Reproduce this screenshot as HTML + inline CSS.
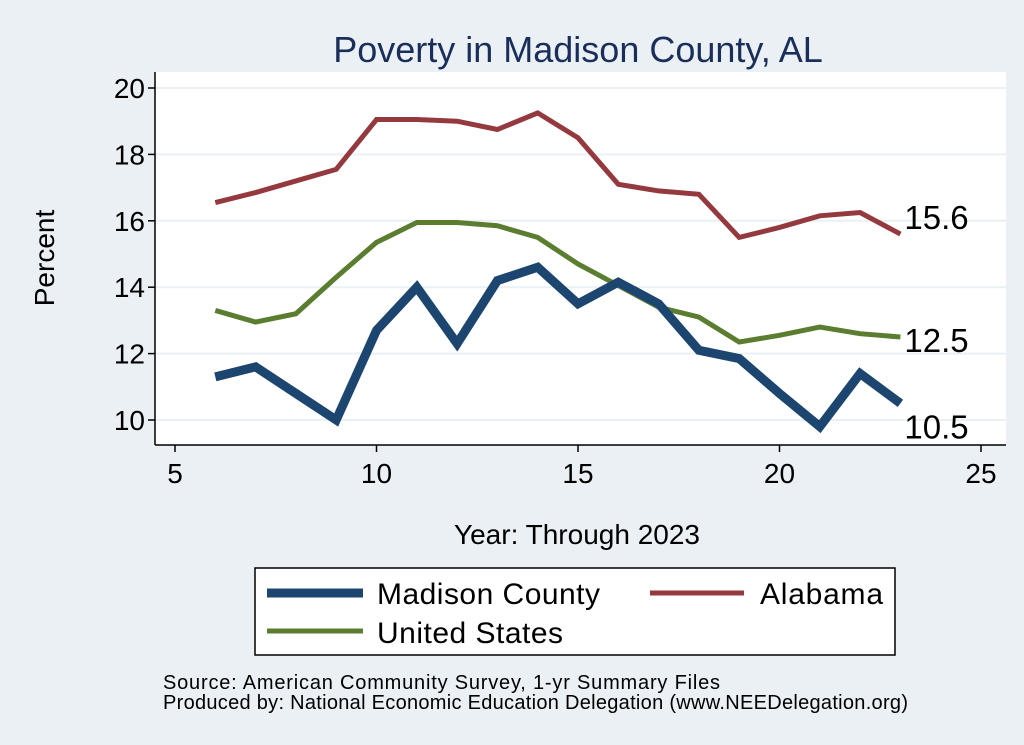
<!DOCTYPE html>
<html><head><meta charset="utf-8"><style>
body{margin:0;background:#eaf0f3;font-family:"Liberation Sans",sans-serif}
svg{display:block}
</style></head><body>
<svg id="c" width="1024" height="745" xmlns="http://www.w3.org/2000/svg">
<rect x="0" y="0" width="1024" height="745" fill="#eaf0f3"/>
<text x="578" y="62" font-size="36" fill="#1a2e5a" text-anchor="middle">Poverty in Madison County, AL</text>
<rect x="155" y="72" width="851" height="373" fill="#fff"/>
<g id="grid"></g><g id="axes"></g><g id="series"></g>
<text x="54" y="258" font-size="28" text-anchor="middle" transform="rotate(-90 54 258)">Percent</text>
<text x="577" y="544" font-size="28" text-anchor="middle">Year: Through 2023</text>
<g>
<rect x="255" y="568" width="640" height="87" fill="#fff" stroke="#000" stroke-width="1.5"/>
<g><line x1="267" y1="593" x2="363" y2="593" stroke="#1c4670" stroke-width="9"/><text x="377" y="604" font-size="30" textLength="223">Madison County</text></g>
<g><line x1="650" y1="593" x2="744" y2="593" stroke="#943a3f" stroke-width="5"/><text x="760" y="604" font-size="30" textLength="123">Alabama</text></g>
<g><line x1="267" y1="631" x2="363" y2="631" stroke="#5a7d30" stroke-width="5"/><text x="377" y="643" font-size="30" textLength="186">United States</text></g>
</g>
<text x="163" y="689" font-size="20" textLength="557">Source: American Community Survey, 1-yr Summary Files</text>
<text x="163" y="709" font-size="20" textLength="745">Produced by: National Economic Education Delegation (www.NEEDelegation.org)</text>
</svg>
<script>
const years=[6,7,8,9,10,11,12,13,14,15,16,17,18,19,20,21,22,23];
const madison=[11.3,11.6,10.8,10.0,12.7,14.0,12.3,14.2,14.6,13.5,14.15,13.5,12.1,11.85,10.8,9.8,11.4,10.5];
const alabama=[16.55,16.85,17.2,17.55,19.05,19.05,19.0,18.75,19.25,18.5,17.1,16.9,16.8,15.5,15.8,16.15,16.25,15.6];
const us=[13.3,12.95,13.2,14.3,15.35,15.95,15.95,15.85,15.5,14.7,14.05,13.4,13.1,12.35,12.55,12.8,12.6,12.5];
const xTicks=[5,10,15,20,25];
const yTicks=[10,12,14,16,18,20];
const X=v=>175+(v-5)*40.3, Y=v=>420-(v-10)*33.2;
const NS="http://www.w3.org/2000/svg";
function mk(t,a,p){const e=document.createElementNS(NS,t);for(const k in a)e.setAttribute(k,a[k]);p.appendChild(e);return e;}
const g=document.getElementById('grid'),ax=document.getElementById('axes'),s=document.getElementById('series');
yTicks.forEach(v=>{
 const l=mk('line',{x1:155,x2:1006,y1:Y(v),y2:Y(v),stroke:'#eaf0f3','stroke-width':2},g);
 
 
 mk('line',{x1:148,x2:155,y1:Y(v),y2:Y(v),stroke:'#000','stroke-width':1.5},ax);
 const t=mk('text',{x:145,y:Y(v)+10,'font-size':28,'text-anchor':'end'},ax);t.textContent=v;
 
 
});
mk('line',{x1:155,x2:155,y1:72,y2:445,stroke:'#000','stroke-width':1.5},ax);
mk('line',{x1:155,x2:1006,y1:445,y2:445,stroke:'#000','stroke-width':1.5},ax);
xTicks.forEach(v=>{
 mk('line',{x1:X(v),x2:X(v),y1:445,y2:452,stroke:'#000','stroke-width':1.5},ax);
 const t=mk('text',{x:X(v),y:483,'font-size':28,'text-anchor':'middle'},ax);t.textContent=v;
 
 
});
function line(d,c,w,name,dy){
 const p=mk('polyline',{points:years.map((y,i)=>X(y)+','+Y(d[i])).join(' '),fill:'none',stroke:c,'stroke-width':w,'stroke-linejoin':'miter'},s);
 
 
 const n=d.length-1;
 const t=mk('text',{x:X(years[n])+4,y:Y(d[n])+dy,'font-size':33},s);t.textContent=d[n].toFixed(1);
 
 
}
line(alabama,'#943a3f',5,'alabama-line',-5);
line(us,'#5a7d30',5,'united-states-line',15);
line(madison,'#1c4670',9,'madison-county-line',35);
</script>
</body></html>
